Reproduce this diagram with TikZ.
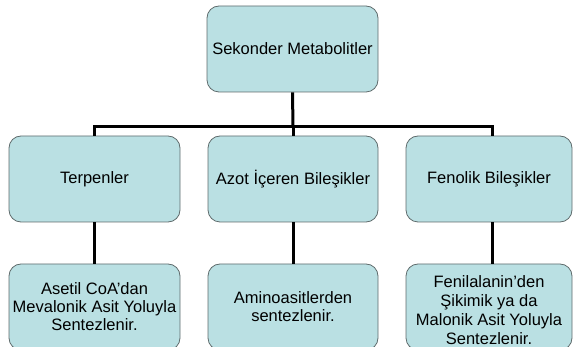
\documentclass[tikz,border=0pt]{standalone}
\usepackage{fontspec}
\setmainfont{Liberation Sans}
\definecolor{boxfill}{HTML}{BAE0E3}
\definecolor{boxline}{HTML}{5F6B6C}
\begin{document}
\begin{tikzpicture}[x=1pt,y=-1pt,
  boxtext/.style={align=center, inner sep=0pt, font=\fontsize{16.5pt}{18pt}\selectfont},
  box/.style={boxtext, draw=boxline, line width=0.8pt, fill=boxfill, rounded corners=12pt,
    minimum height=86pt},
  conn/.style={line width=3pt, black}]
\useasboundingbox (0,0) rectangle (573,347);
\clip (0,0) rectangle (573,347);
\node[box, minimum width=171pt] (top) at (292.5,49) {Sekonder Metabolitler};
\node[box, minimum width=171pt] (terp) at (94.5,179) {Terpenler};
\node[box, minimum width=170pt] (azot) at (293,179) {Azot İçeren Bileşikler};
\node[box, minimum width=166pt] (fen) at (489,179) {Fenolik Bileşikler};
\node[box, minimum width=171pt] (aset) at (94.5,307) {Asetil CoA’dan\\Mevalonik Asit Yoluyla\\Sentezlenir.};
\node[box, minimum width=170pt] (amino) at (293,307) {Aminoasitlerden\\sentezlenir.};
\node[box, minimum width=166pt,
  label={[boxtext, font=\fontsize{16.5pt}{19pt}\selectfont, yshift=-3.5pt]center:{Fenilalanin’den\\Şikimik ya da\\Malonik Asit Yoluyla\\Sentezlenir.}}]
  (fenil) at (489,307) {};
\coordinate (bar) at (293,127);
\draw[conn] (top.south) -- (bar);
\draw[conn, line cap=rect] (94,127) -- (492,127);
\draw[conn] (94,127) -- (terp.north -| 94,127);
\draw[conn] (bar) -- (azot.north);
\draw[conn] (492,127) -- (fen.north -| 492,127);
\draw[conn] (terp.south -| 94,0) -- (aset.north -| 94,0);
\draw[conn] (azot.south) -- (amino.north);
\draw[conn] (fen.south -| 492,0) -- (fenil.north -| 492,0);
\end{tikzpicture}
\end{document}
